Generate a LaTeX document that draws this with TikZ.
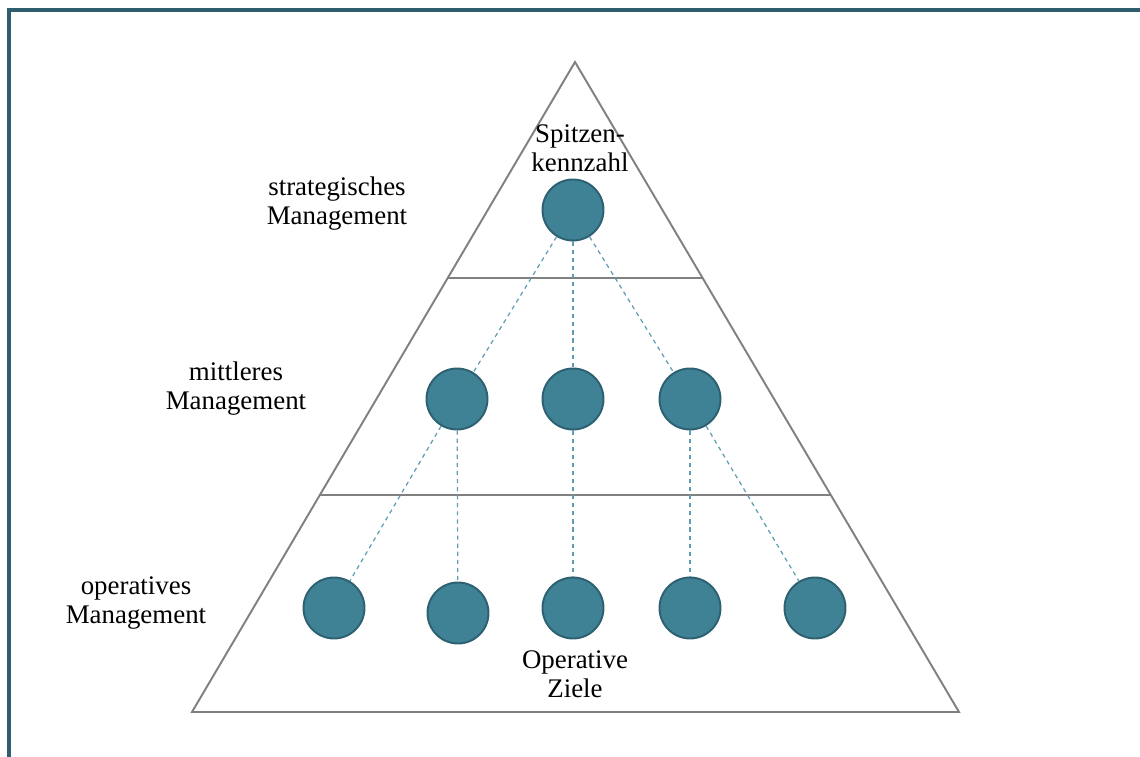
\documentclass[tikz,border=0pt]{standalone}
\usepackage{fontspec}
\setmainfont{Liberation Serif}
\usepackage{xcolor}
\definecolor{rand}{HTML}{2F5F6E}
\definecolor{kreis}{HTML}{3F8195}
\definecolor{kreisrand}{HTML}{2D6172}
\definecolor{strich}{HTML}{5E9DB2}
\usetikzlibrary{calc}

\begin{document}
\begin{tikzpicture}[x=0.02cm,y=-0.02cm,
    kz/.style={circle,draw=kreisrand,line width=1.1pt,fill=kreis,minimum size=1.22cm,inner sep=0pt},
    verb/.style={draw=strich,dashed,line width=0.7pt,dash pattern=on 2.4pt off 2.2pt},
    txt/.style={align=center,font=\fontsize{15.3}{16.5}\selectfont}]
    \useasboundingbox (0,0) rectangle (1140,757);
    %Rahmen
    \draw[rand,line width=2.2pt] (9,757)--(9,10)--(1140,10);
    %Pyramide
    \draw[gray,line width=1.1pt] (575,62)--(959,712)--(192,712)--cycle;
    \draw[gray,line width=1.1pt] (447,278)--(702,278);
    \draw[gray,line width=1.1pt] (320,495)--(831,495);
    %Kennzahlen
    \node[kz] (s) at (573,210) {};
    \node[kz] (m1) at (457,399) {};
    \node[kz] (m2) at (573,399) {};
    \node[kz] (m3) at (690,399) {};
    \node[kz] (o1) at (334,608) {};
    \node[kz] (o2) at (458,613) {};
    \node[kz] (o3) at (573,608) {};
    \node[kz] (o4) at (690,608) {};
    \node[kz] (o5) at (815,608) {};
    %Verbindungen
    \draw[verb] (s)--(m1);
    \draw[verb] (s)--(m2);
    \draw[verb] (s)--(m3);
    \draw[verb] (m1)--(o1);
    \draw[verb] (m1)--(o2);
    \draw[verb] (m2)--(o3);
    \draw[verb] (m3)--(o4);
    \draw[verb] (m3)--(o5);
    %Beschriftung
    \node[txt] (spitze) at (580,148) {Spitzen-\\kennzahl};
    \node[txt] (ziele) at (575,674) {Operative\\Ziele};
    \node[txt] (strat) at (337,204) {strategisches\\Management};
    \node[txt] (mitt) at (236,389) {mittleres\\Management};
    \node[txt] (oper) at (136,603) {operatives\\Management};
\end{tikzpicture}
\end{document}
